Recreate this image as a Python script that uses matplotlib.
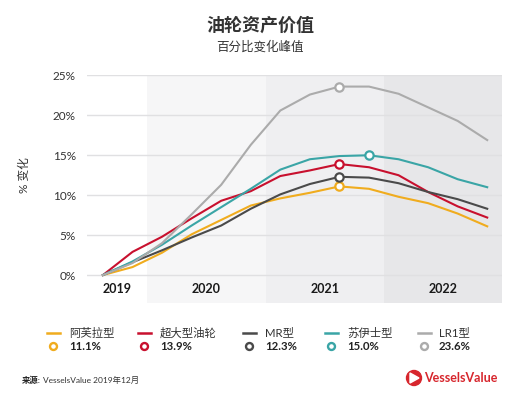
import matplotlib
matplotlib.use("Agg")
import matplotlib.pyplot as plt
from matplotlib.lines import Line2D
from matplotlib.patches import Circle, Polygon

plt.rcParams['font.family'] = ['Lato', 'Noto Sans CJK SC', 'DejaVu Sans']

# ---- data ----
quarters = [2019.625, 2019.875, 2020.125, 2020.375, 2020.625, 2020.875, 2021.125,
            2021.375, 2021.625, 2021.875, 2022.125, 2022.375, 2022.625, 2022.875]
series_names = ['阿芙拉型', '超大型油轮', 'MR型', '苏伊士型', 'LR1型']
aframax = [0, 1.0, 2.8, 5.1, 6.9, 8.7, 9.6, 10.3, 11.1, 10.8, 9.8, 9.0, 7.7, 6.1]
vlcc = [0, 2.9, 4.8, 7.1, 9.3, 10.5, 12.4, 13.1, 13.9, 13.5, 12.5, 10.4, 8.6, 7.2]
mr = [0, 1.6, 3.1, 4.7, 6.2, 8.3, 10.1, 11.4, 12.3, 12.2, 11.5, 10.4, 9.5, 8.3]
suezmax = [0, 1.7, 3.8, 6.2, 8.5, 10.8, 13.2, 14.5, 14.9, 15.0, 14.5, 13.5, 12.0, 11.0]
lr1 = [0, 1.5, 4.0, 7.6, 11.3, 16.3, 20.6, 22.6, 23.6, 23.6, 22.7, 21.0, 19.3, 16.9]
peak_labels = ['11.1%', '13.9%', '12.3%', '15.0%', '23.6%']
years = ['2019', '2020', '2021', '2022']
year_bands = [2019, 2020, 2021, 2022, 2023]
yticks = [0, 5, 10, 15, 20, 25]

colors = ['#f0ac1e', '#c8102e', '#4a4a4a', '#3aa5a6', '#ababab']
band_colors = ['#ffffff', '#f6f6f7', '#efeff1', '#e7e7e9']

W, H = 529, 397
fig = plt.figure(figsize=(W / 100, H / 100), dpi=100)
fig.patch.set_facecolor('white')


def fx(px):
    return px / W


def fy(py):
    return 1 - py / H


ax = fig.add_axes([fx(87), fy(303), fx(502) - fx(87), fy(75) - fy(303)])
ax.set_xlim(2019.49, 2023.0)
ax.set_ylim(-3.5, 25.05)
for s in ax.spines.values():
    s.set_visible(False)

for i in range(4):
    ax.axvspan(year_bands[i], year_bands[i + 1], color=band_colors[i], zorder=0, lw=0)

for t in yticks:
    ax.axhline(t, color='#e0e0e2', lw=1.0, zorder=1)

ax.set_yticks(yticks)
ax.set_yticklabels([f'{t}%' for t in yticks], fontsize=8.5, color='#333333')
ax.set_xticks([])
ax.tick_params(axis='y', length=0, pad=8)

# year labels inside the axes
for i, yr in enumerate(years):
    lo = max(year_bands[i], 2019.49)
    ax.text((lo + year_bands[i + 1]) / 2, -1.75, yr, ha='center', va='center',
            fontsize=9, fontweight='bold', color='#1a1a1a')

all_series = [aframax, vlcc, mr, suezmax, lr1]
for vals, c in zip(all_series, colors):
    ax.plot(quarters, vals, color=c, lw=1.5, zorder=3, solid_joinstyle='round')
    k = max(range(len(vals)), key=lambda j: vals[j])
    ax.plot([quarters[k]], [vals[k]], 'o', ms=6, mfc='white', mec=c, mew=1.6, zorder=4)

ax.set_ylabel('% 变化', fontsize=8.5, color='#333333', labelpad=10)
ax.yaxis.set_label_coords(-(87 - 30) / (502 - 87), (303 - 175) / (303 - 75))

# titles
fig.text(fx(260), fy(25), '油轮资产价值', ha='center', va='center', fontsize=13,
         fontweight='bold', color='#333333')
fig.text(fx(260), fy(46), '百分比变化峰值', ha='center', va='center', fontsize=9,
         color='#333333')

# legend (manual)
line_x = [47, 138, 243, 325, 418]
text_x = [69, 160, 265, 347, 439]
for i in range(5):
    fig.add_artist(Line2D([fx(line_x[i]), fx(line_x[i] + 13)], [fy(333), fy(333)],
                          transform=fig.transFigure, color=colors[i], lw=1.8))
    fig.text(fx(text_x[i]), fy(333), series_names[i], ha='left', va='center',
             fontsize=8.2, color='#333333')
    fig.add_artist(Line2D([fx(line_x[i] + 6)], [fy(346)], transform=fig.transFigure,
                          marker='o', ms=5, mfc='white', mec=colors[i], mew=1.7, lw=0))
    fig.text(fx(text_x[i]), fy(346), peak_labels[i], ha='left', va='center',
             fontsize=8.2, fontweight='bold', color='#222222')

# source
fig.text(fx(22), fy(380), '来源:', ha='left', va='center', fontsize=6,
         fontweight='bold', color='#222222')
fig.text(fx(43), fy(380), 'VesselsValue 2019年12月', ha='left', va='center',
         fontsize=6, color='#333333')

# logo
logo_ax = fig.add_axes([0, 0, 1, 1], facecolor='none')
logo_ax.set_xlim(0, W)
logo_ax.set_ylim(H, 0)
logo_ax.axis('off')
logo_ax.add_patch(Circle((414, 378), 7.5, color='#d7262d'))
logo_ax.add_patch(Polygon([(410, 373), (410, 383), (419, 378)], closed=True,
                          color='white'))
logo_ax.text(424, 378, 'VesselsValue', ha='left', va='center', fontsize=9,
             fontweight='bold', color='#d7262d')

fig.savefig('out.png', dpi=100, facecolor='white')
